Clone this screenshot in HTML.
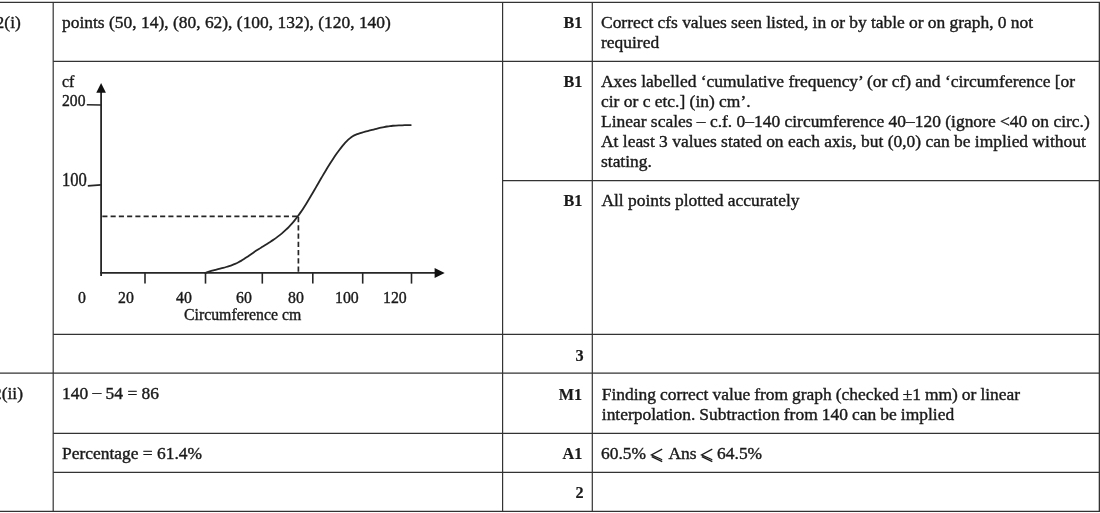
<!DOCTYPE html>
<html><head><meta charset="utf-8"><title>Mark scheme</title>
<style>
html,body{margin:0;padding:0;background:#fff;}
body{width:1100px;height:513px;position:relative;overflow:hidden;font-family:"Liberation Serif",serif;color:#1a1a1a;}
.t{position:absolute;white-space:nowrap;line-height:20px;font-family:"Liberation Serif",serif;-webkit-text-stroke:0.4px #1a1a1a;}
.d{position:relative;top:-1.4px;}
#txt{position:absolute;left:0;top:0;width:1100px;height:513px;will-change:transform;transform:translateZ(0);}
svg{position:absolute;left:0;top:0;}
</style></head><body>
<svg width="1100" height="513" viewBox="0 0 1100 513">
<line x1="0" y1="2.4" x2="1100" y2="2.4" stroke="#333" stroke-width="1.3"/>
<line x1="53.2" y1="61.3" x2="1100" y2="61.3" stroke="#333" stroke-width="1.3"/>
<line x1="502.6" y1="180.7" x2="1100" y2="180.7" stroke="#333" stroke-width="1.3"/>
<line x1="53.2" y1="334.3" x2="1100" y2="334.3" stroke="#333" stroke-width="1.3"/>
<line x1="0" y1="373.05" x2="1100" y2="373.05" stroke="#333" stroke-width="1.3"/>
<line x1="53.2" y1="433.3" x2="1100" y2="433.3" stroke="#333" stroke-width="1.3"/>
<line x1="53.2" y1="472.45" x2="1100" y2="472.45" stroke="#333" stroke-width="1.3"/>
<line x1="0" y1="511.3" x2="1100" y2="511.3" stroke="#333" stroke-width="1.3"/>
<line x1="53.2" y1="2.2" x2="53.2" y2="511.3" stroke="#333" stroke-width="1.2"/>
<line x1="502.6" y1="2.2" x2="502.6" y2="511.3" stroke="#333" stroke-width="1.2"/>
<line x1="592.3" y1="2.2" x2="592.3" y2="511.3" stroke="#333" stroke-width="1.2"/>
<line x1="1099.5" y1="2.2" x2="1099.5" y2="511.3" stroke="#333" stroke-width="1.6"/>
<line x1="101.1" y1="90" x2="101.1" y2="276" stroke="#262626" stroke-width="1.8"/>
<polygon points="101.1,83 96.3,92.8 105.9,92.8" fill="#111"/>
<line x1="100.2" y1="272.8" x2="437" y2="272.8" stroke="#262626" stroke-width="1.8"/>
<polygon points="444.7,272.9 434.6,267.9 434.6,277.9" fill="#111"/>
<line x1="86.8" y1="104.7" x2="101" y2="105.0" stroke="#262626" stroke-width="1.5"/>
<line x1="87.8" y1="185.9" x2="101" y2="184.9" stroke="#262626" stroke-width="1.7"/>
<line x1="145.0" y1="272.8" x2="145.0" y2="283.6" stroke="#262626" stroke-width="1.6"/>
<line x1="205.5" y1="272.8" x2="205.5" y2="283.6" stroke="#262626" stroke-width="1.6"/>
<line x1="262.3" y1="272.8" x2="262.3" y2="283.6" stroke="#262626" stroke-width="1.6"/>
<line x1="312.8" y1="272.8" x2="312.8" y2="283.6" stroke="#262626" stroke-width="1.6"/>
<line x1="362.7" y1="272.8" x2="362.7" y2="283.6" stroke="#262626" stroke-width="1.6"/>
<line x1="411.5" y1="272.8" x2="411.5" y2="283.6" stroke="#262626" stroke-width="1.6"/>
<line x1="102.35" y1="216.3" x2="298.6" y2="216.3" stroke="#262626" stroke-width="1.7" stroke-dasharray="5.1 3.15"/>
<line x1="298.4" y1="217.1" x2="298.4" y2="272.8" stroke="#262626" stroke-width="1.7" stroke-dasharray="5.1 3.15"/>
<path d="M205.3,272.9 C205.80,272.73 207.29,272.19 208.28,271.86 C209.27,271.53 210.27,271.23 211.26,270.94 C212.25,270.65 213.24,270.39 214.23,270.12 C215.22,269.85 216.22,269.59 217.21,269.34 C218.20,269.08 219.20,268.84 220.19,268.59 C221.18,268.34 222.18,268.08 223.17,267.82 C224.16,267.56 225.16,267.29 226.15,267.0 C227.14,266.71 228.14,266.40 229.13,266.08 C230.12,265.75 231.11,265.42 232.1,265.05 C233.09,264.68 234.09,264.29 235.08,263.86 C236.07,263.43 237.07,262.97 238.06,262.47 C239.05,261.97 240.05,261.43 241.04,260.86 C242.03,260.29 243.03,259.66 244.02,259.03 C245.01,258.39 246.01,257.72 247.0,257.05 C247.99,256.38 248.98,255.68 249.97,254.99 C250.96,254.30 251.96,253.60 252.95,252.91 C253.94,252.22 254.94,251.53 255.93,250.87 C256.92,250.21 257.92,249.57 258.91,248.94 C259.90,248.31 260.90,247.70 261.89,247.09 C262.88,246.48 263.88,245.89 264.87,245.28 C265.86,244.67 266.85,244.06 267.84,243.44 C268.83,242.81 269.83,242.18 270.82,241.53 C271.81,240.88 272.81,240.22 273.8,239.53 C274.79,238.84 275.79,238.14 276.78,237.4 C277.77,236.66 278.77,235.90 279.76,235.11 C280.75,234.32 281.74,233.51 282.73,232.65 C283.72,231.79 284.72,230.91 285.71,229.97 C286.70,229.03 287.70,228.06 288.69,227.04 C289.68,226.02 290.68,224.96 291.67,223.85 C292.66,222.74 293.66,221.58 294.65,220.36 C295.64,219.14 296.64,217.88 297.63,216.55 C298.62,215.22 299.61,213.82 300.6,212.38 C301.59,210.94 302.59,209.44 303.58,207.9 C304.57,206.37 305.57,204.78 306.56,203.17 C307.55,201.56 308.55,199.91 309.54,198.25 C310.53,196.59 311.53,194.89 312.52,193.2 C313.51,191.50 314.51,189.79 315.5,188.08 C316.49,186.37 317.48,184.64 318.47,182.93 C319.46,181.22 320.46,179.51 321.45,177.82 C322.44,176.13 323.44,174.44 324.43,172.77 C325.42,171.11 326.42,169.45 327.41,167.83 C328.40,166.21 329.40,164.60 330.39,163.03 C331.38,161.46 332.38,159.93 333.37,158.43 C334.36,156.93 335.35,155.47 336.34,154.05 C337.33,152.64 338.33,151.26 339.32,149.94 C340.31,148.62 341.31,147.35 342.3,146.14 C343.29,144.93 344.29,143.77 345.28,142.69 C346.27,141.61 347.27,140.59 348.26,139.67 C349.25,138.75 350.24,137.90 351.23,137.18 C352.22,136.46 353.22,135.86 354.21,135.35 C355.20,134.84 356.20,134.47 357.19,134.1 C358.18,133.73 359.18,133.44 360.17,133.13 C361.16,132.82 362.16,132.53 363.15,132.24 C364.14,131.96 365.14,131.69 366.13,131.42 C367.12,131.15 368.11,130.89 369.1,130.64 C370.09,130.38 371.09,130.14 372.08,129.89 C373.07,129.64 374.07,129.39 375.06,129.14 C376.05,128.89 377.05,128.64 378.04,128.4 C379.03,128.16 380.03,127.92 381.02,127.7 C382.01,127.48 383.01,127.26 384.0,127.06 C384.99,126.86 385.98,126.67 386.97,126.51 C387.96,126.35 388.96,126.20 389.95,126.08 C390.94,125.96 391.94,125.86 392.93,125.77 C393.92,125.68 394.92,125.61 395.91,125.55 C396.90,125.49 397.90,125.44 398.89,125.4 C399.88,125.36 400.88,125.33 401.87,125.3 C402.86,125.27 403.85,125.24 404.84,125.22 C405.83,125.20 406.83,125.19 407.82,125.16 C408.81,125.13 410.30,125.08 410.8,125.07" fill="none" stroke="#262626" stroke-width="1.8" stroke-linecap="round"/>
<path d="M662.2,449.1 L651.4,454.9 L662.2,459.7 M651.7,456.6 L662.2,461.6" fill="none" stroke="#1a1a1a" stroke-width="1.25" stroke-linejoin="miter"/>
<path d="M712.3000000000001,449.1 L701.5,454.9 L712.3000000000001,459.7 M701.8000000000001,456.6 L712.3000000000001,461.6" fill="none" stroke="#1a1a1a" stroke-width="1.25" stroke-linejoin="miter"/>
</svg>
<div id="txt">
<div class="t" style="top:11.91px;font-size:17.45px;left:-4.40px;">2(i)</div>
<div class="t" style="top:383.11px;font-size:17.45px;left:-7.00px;">2(ii)</div>
<div class="t" style="top:11.91px;font-size:17.45px;left:62.00px;">points (50, 14), (80, 62), (100, 132), (120, 140)</div>
<div class="t" style="top:382.51px;font-size:17.45px;left:62.00px;">140 <span class="d">–</span> 54 = 86</div>
<div class="t" style="top:442.61px;font-size:17.45px;left:62.00px;">Percentage = 61.4%</div>
<div class="t" style="top:11.91px;font-size:17.45px;right:517.70px;font-weight:bold;-webkit-text-stroke-width:0.2px;transform:scaleX(0.93);transform-origin:100% 0;">B1</div>
<div class="t" style="top:70.71px;font-size:17.45px;right:517.70px;font-weight:bold;-webkit-text-stroke-width:0.2px;transform:scaleX(0.93);transform-origin:100% 0;">B1</div>
<div class="t" style="top:190.01px;font-size:17.45px;right:517.70px;font-weight:bold;-webkit-text-stroke-width:0.2px;transform:scaleX(0.93);transform-origin:100% 0;">B1</div>
<div class="t" style="top:344.81px;font-size:17.45px;right:516.50px;font-weight:bold;-webkit-text-stroke-width:0.2px;transform:scaleX(0.93);transform-origin:100% 0;">3</div>
<div class="t" style="top:383.71px;font-size:17.45px;right:517.70px;font-weight:bold;-webkit-text-stroke-width:0.2px;transform:scaleX(0.93);transform-origin:100% 0;">M1</div>
<div class="t" style="top:442.61px;font-size:17.45px;right:517.70px;font-weight:bold;-webkit-text-stroke-width:0.2px;transform:scaleX(0.93);transform-origin:100% 0;">A1</div>
<div class="t" style="top:481.71px;font-size:17.45px;right:516.50px;font-weight:bold;-webkit-text-stroke-width:0.2px;transform:scaleX(0.93);transform-origin:100% 0;">2</div>
<div class="t" style="top:11.91px;font-size:17.45px;left:601.00px;word-spacing:-0.1px;">Correct cfs values seen listed, in or by table or on graph, 0 not</div>
<div class="t" style="top:31.91px;font-size:17.45px;left:601.00px;">required</div>
<div class="t" style="top:70.71px;font-size:17.45px;left:601.00px;">Axes labelled ‘cumulative frequency’ (or cf) and ‘circumference [or</div>
<div class="t" style="top:90.81px;font-size:17.45px;left:601.00px;">cir or c etc.] (in) cm’.</div>
<div class="t" style="top:110.91px;font-size:17.45px;left:601.00px;">Linear scales <span class="d">–</span> c.f. 0<span class="d">–</span>140 circumference 40<span class="d">–</span>120 (ignore &lt;40 on circ.)</div>
<div class="t" style="top:130.81px;font-size:17.45px;left:601.00px;">At least 3 values stated on each axis, but (0,0) can be implied without</div>
<div class="t" style="top:150.81px;font-size:17.45px;left:601.00px;">stating.</div>
<div class="t" style="top:190.01px;font-size:17.45px;left:601.40px;">All points plotted accurately</div>
<div class="t" style="top:383.81px;font-size:17.45px;left:601.80px;word-spacing:-0.37px;">Finding correct value from graph (checked ±1 mm) or linear</div>
<div class="t" style="top:403.81px;font-size:17.45px;left:601.80px;word-spacing:-0.28px;">interpolation. Subtraction from 140 can be implied</div>
<div class="t" style="top:442.61px;font-size:17.45px;left:601.00px;">60.5%</div>
<div class="t" style="top:442.61px;font-size:17.45px;left:668.40px;">Ans</div>
<div class="t" style="top:442.61px;font-size:17.45px;left:717.10px;">64.5%</div>
<div class="t" style="top:70.73px;font-size:17.4px;left:61.60px;transform:scaleX(0.92);transform-origin:0 0;">cf</div>
<div class="t" style="top:90.80px;font-size:16.3px;left:61.60px;transform:scaleX(0.96);transform-origin:0 0;">200</div>
<div class="t" style="top:169.73px;font-size:18.0px;left:62.00px;transform:scaleX(0.92);transform-origin:0 0;">100</div>
<div class="t" style="top:287.76px;font-size:17.0px;left:77.70px;transform:scaleX(0.93);transform-origin:0 0;">0</div>
<div class="t" style="top:287.76px;font-size:17.0px;left:117.80px;transform:scaleX(0.93);transform-origin:0 0;">20</div>
<div class="t" style="top:287.76px;font-size:17.0px;left:175.90px;transform:scaleX(0.93);transform-origin:0 0;">40</div>
<div class="t" style="top:287.76px;font-size:17.0px;left:236.20px;transform:scaleX(0.93);transform-origin:0 0;">60</div>
<div class="t" style="top:287.76px;font-size:17.0px;left:288.20px;transform:scaleX(0.93);transform-origin:0 0;">80</div>
<div class="t" style="top:287.76px;font-size:17.0px;left:335.20px;transform:scaleX(0.93);transform-origin:0 0;">100</div>
<div class="t" style="top:287.76px;font-size:17.0px;left:382.90px;transform:scaleX(0.93);transform-origin:0 0;">120</div>
<div class="t" style="top:305.46px;font-size:17.0px;left:183.60px;transform:scaleX(0.93);transform-origin:0 0;">Circumference cm</div>
</div>
</body></html>
